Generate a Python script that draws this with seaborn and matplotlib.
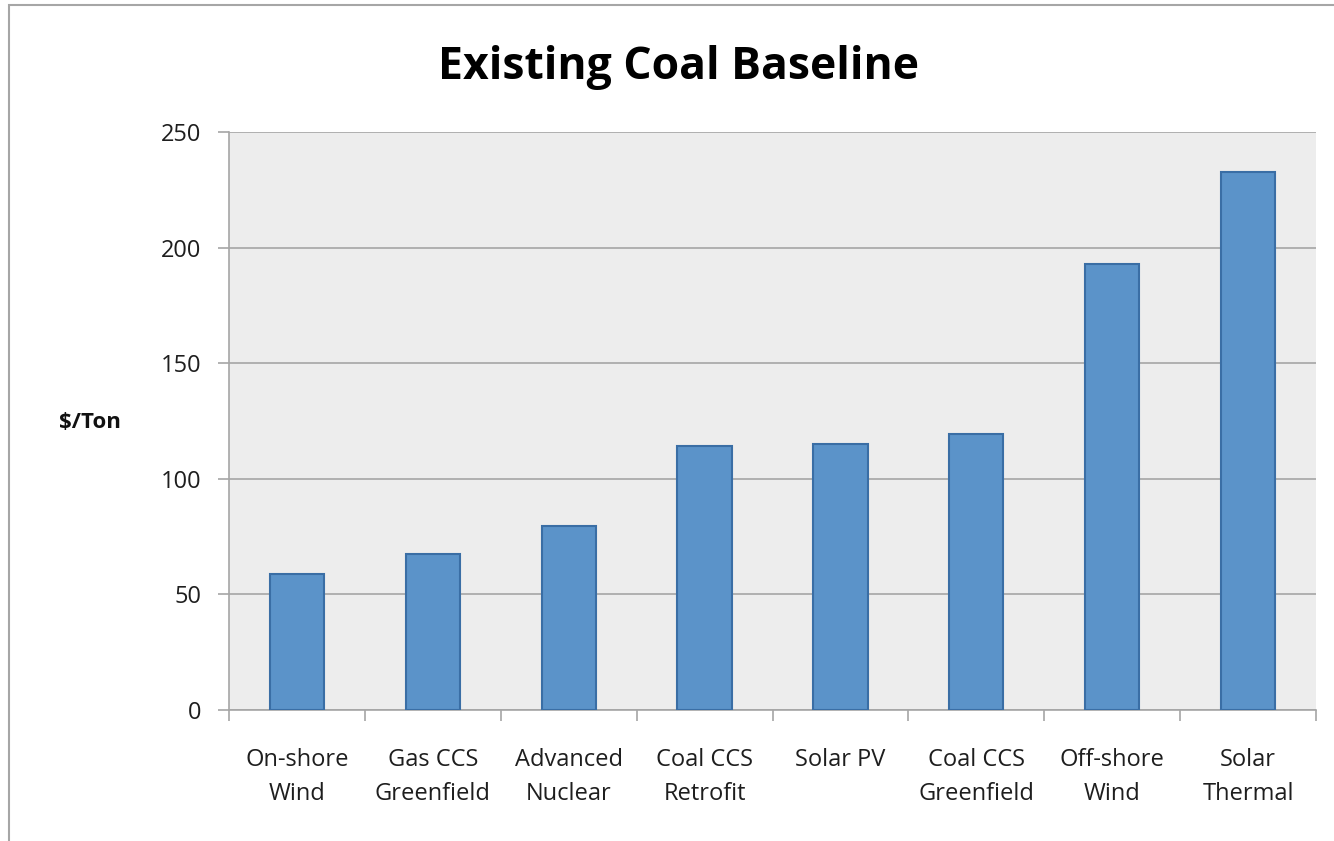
import matplotlib
matplotlib.use("Agg")
import matplotlib.pyplot as plt
import numpy as np
import pandas as pd
import seaborn as sns
from matplotlib.patches import Rectangle

categories = [
    "On-shore\nWind",
    "Gas CCS\nGreenfield",
    "Advanced\nNuclear",
    "Coal CCS\nRetrofit",
    "Solar PV",
    "Coal CCS\nGreenfield",
    "Off-shore\nWind",
    "Solar\nThermal",
]
cost_per_ton = [58.8, 67.5, 79.6, 114.2, 115.0, 119.4, 192.9, 232.7]
y_ticks = [0, 50, 100, 150, 200, 250]

df = pd.DataFrame({"tech": categories, "cost": cost_per_ton})

sns.set_theme(style="white")
plt.rcParams["font.family"] = ["Open Sans", "DejaVu Sans"]

fig = plt.figure(figsize=(13.34, 8.41), dpi=100)
ax = fig.add_axes([229 / 1334, 1 - 710 / 841, 1087 / 1334, 578 / 841])
ax.set_facecolor("#EDEDED")

sns.barplot(data=df, x="tech", y="cost", color="#5B93C9", saturation=1,
            width=0.40, edgecolor="#3A6EA5", linewidth=1.5, ax=ax, zorder=3)

ax.set_ylim(0, 250)
ax.set_xlim(-0.5, len(categories) - 0.5)
ax.set_yticks(y_ticks)
ax.set_yticklabels([str(t) for t in y_ticks], fontsize=17, color="#1E1E1E")
ax.yaxis.grid(True, color="#A6A6A6", linewidth=1.2, zorder=0)
ax.set_axisbelow(True)

# category labels between boundary ticks, like Excel
ax.set_xticks(np.arange(len(categories)))
ax.set_xticklabels(categories, fontsize=17, color="#1E1E1E", linespacing=1.6)
ax.tick_params(axis="x", which="major", length=0, pad=27)
ax.set_xticks(np.arange(len(categories) + 1) - 0.5, minor=True)
ax.tick_params(axis="x", which="minor", bottom=True, length=8, color="#A6A6A6",
               width=1.2, direction="out")
ax.tick_params(axis="y", length=8, color="#A6A6A6", width=1.2, direction="out",
               left=True, pad=12)

for side in ["top", "right"]:
    ax.spines[side].set_visible(False)
for side in ["left", "bottom"]:
    ax.spines[side].set_color("#A6A6A6")
    ax.spines[side].set_linewidth(1.2)

ax.set_xlabel("")
ax.set_ylabel("")

fig.text(90 / 1334, 1 - 423 / 841, "$/Ton", fontsize=16, fontweight="bold",
         ha="center", va="center", color="#111111")
fig.text(679 / 1334, 1 - 68 / 841, "Existing Coal Baseline", fontsize=32,
         fontweight="bold", ha="center", va="center", color="#000000")

# outer chart border (cropped at right and bottom)
fig.patches.append(Rectangle((9 / 1334, -0.1), 1.2, 1 - 5 / 841 + 0.1,
                             transform=fig.transFigure, fill=False,
                             edgecolor="#A6A6A6", linewidth=1.5))

fig.savefig("out.png", dpi=100)
